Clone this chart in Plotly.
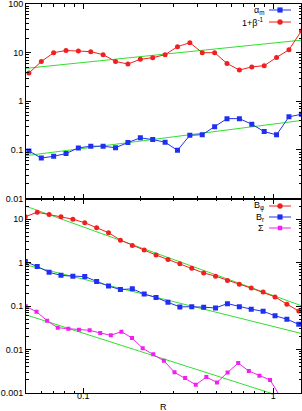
import math
import plotly.graph_objects as go

# ---------------- data ----------------
# top panel
R_top = [0.0518, 0.0602, 0.0699, 0.0812, 0.0943, 0.1096, 0.1273, 0.148, 0.1719, 0.1998,
         0.2321, 0.2698, 0.3134, 0.3641, 0.4231, 0.4916, 0.5712, 0.6637, 0.7713, 0.8962,
         1.041, 1.21, 1.406]
alpha_m = [0.095, 0.068, 0.074, 0.084, 0.11, 0.119, 0.119, 0.111, 0.142, 0.177,
           0.163, 0.144, 0.098, 0.20, 0.206, 0.298, 0.44, 0.44, 0.337, 0.238,
           0.204, 0.48, 0.54]
one_plus_inv_beta = [3.8, 6.6, 10.0, 11.1, 10.8, 10.5, 9.1, 6.6, 5.85, 7.3,
                     7.9, 9.1, 13.3, 16.1, 10.0, 10.0, 6.0, 4.4, 5.1, 5.4,
                     8.0, 11.5, 28.0]

# bottom panel
R_bot = [0.0496, 0.05728, 0.06615, 0.0764, 0.08824, 0.1019, 0.1177, 0.1359, 0.157, 0.1813,
         0.2094, 0.2418, 0.2793, 0.3226, 0.3726, 0.4305, 0.4971, 0.5742, 0.6631, 0.7659,
         0.8846, 1.022, 1.18, 1.363]
B_phi = [11.4, 14.5, 12.8, 11.4, 10.0, 8.3, 6.4, 4.9, 3.3, 2.5,
         1.95, 1.5, 1.19, 0.95, 0.74, 0.58, 0.49, 0.39, 0.32, 0.26,
         0.21, 0.163, 0.111, 0.077]
B_r = [1.06, 0.82, 0.60, 0.51, 0.49, 0.48, 0.37, 0.29, 0.24, 0.25,
       0.19, 0.158, 0.122, 0.096, 0.097, 0.094, 0.091, 0.114, 0.097, 0.085,
       0.076, 0.060, 0.050, 0.038]
R_sig = [0.04992, 0.0568, 0.06459, 0.07345, 0.08353, 0.09501, 0.1081, 0.1229, 0.1398, 0.1589,
         0.1807, 0.2056, 0.2337, 0.2658, 0.3023, 0.3439, 0.3911, 0.4447, 0.5058, 0.5752,
         0.6542, 0.744, 0.8461, 0.9621, 1.094]
Sigma = [0.099, 0.074, 0.046, 0.0318, 0.0302, 0.0286, 0.0277, 0.0241, 0.0213, 0.0258,
         0.0185, 0.0107, 0.0078, 0.0055, 0.0030, 0.0022, 0.00155, 0.00233, 0.00175, 0.00297,
         0.0049, 0.0032, 0.0025, 0.0020, 0.0008]

# power-law fits  (amplitude, exponent)
fit_beta = (15.8, 0.40)
fit_alpha = (0.34, 0.50)
fit_Bphi = (0.175, -1.58)
fit_Br = (0.034, -1.09)
fit_Sigma = (0.00095, -1.40)
R_fit = [0.05, 1.4]

x_ticks = [0.1, 1]
x_ticktext = ["0.1", "1"]
y_top_ticks = [0.01, 0.1, 1, 10, 100]
y_top_text = ["0.01", "0.1", "1", "10", "100"]
y_bot_ticks = [0.001, 0.01, 0.1, 1, 10]
y_bot_text = ["0.001", "0.01", "0.1", "1", "10"]

# ---------------- style ----------------
RED = "#f02020"
BLUE = "#2030f0"
MAG = "#f020f0"
GREEN = "#30e030"
FONT = "Liberation Sans, Arial, sans-serif"

W, H = 302, 411
ML, MR, MT, MB = 26, 1, 4, 18
PW = W - ML - MR
PH = H - MT - MB


def px2paper(px, py):
    return (px - ML) / PW, (H - MB - py) / PH


def fit_line(amp, expo):
    return [amp * r ** expo for r in R_fit]


fig = go.Figure()

# top panel
fig.add_trace(go.Scatter(x=R_fit, y=fit_line(*fit_beta), mode="lines",
                         line=dict(color=GREEN, width=1), xaxis="x", yaxis="y"))
fig.add_trace(go.Scatter(x=R_fit, y=fit_line(*fit_alpha), mode="lines",
                         line=dict(color=GREEN, width=1), xaxis="x", yaxis="y"))
fig.add_trace(go.Scatter(x=R_top, y=alpha_m, mode="lines+markers",
                         line=dict(color=BLUE, width=1),
                         marker=dict(symbol="square", size=5, color=BLUE),
                         xaxis="x", yaxis="y"))
fig.add_trace(go.Scatter(x=R_top, y=one_plus_inv_beta, mode="lines+markers",
                         line=dict(color=RED, width=1),
                         marker=dict(symbol="circle", size=5, color=RED),
                         xaxis="x", yaxis="y"))

# bottom panel
for f in (fit_Bphi, fit_Br, fit_Sigma):
    fig.add_trace(go.Scatter(x=R_fit, y=fit_line(*f), mode="lines",
                             line=dict(color=GREEN, width=1), xaxis="x2", yaxis="y2"))
fig.add_trace(go.Scatter(x=R_bot, y=B_phi, mode="lines+markers",
                         line=dict(color=RED, width=1),
                         marker=dict(symbol="circle", size=5, color=RED),
                         xaxis="x2", yaxis="y2"))
fig.add_trace(go.Scatter(x=R_bot, y=B_r, mode="lines+markers",
                         line=dict(color=BLUE, width=1),
                         marker=dict(symbol="square", size=5, color=BLUE),
                         xaxis="x2", yaxis="y2"))
fig.add_trace(go.Scatter(x=R_sig, y=Sigma, mode="lines+markers",
                         line=dict(color=MAG, width=1),
                         marker=dict(symbol="square", size=4, color=MAG),
                         xaxis="x2", yaxis="y2"))

x_minor = [0.05, 0.06, 0.07, 0.08, 0.09, 0.2, 0.3, 0.4, 0.5, 0.6, 0.7, 0.8, 0.9]


def y_minor(lo, hi):
    vals = []
    for e in range(lo, hi + 1):
        for m in range(2, 10):
            vals.append(m * 10 ** e)
    return vals


xrange_ = [math.log10(0.05), math.log10(1.4)]
common_x = dict(type="log", range=xrange_, showline=True, linecolor="black", linewidth=1,
                mirror="allticks", ticks="inside", ticklen=5, tickcolor="black",
                tickvals=x_ticks, ticktext=x_ticktext, showgrid=False, zeroline=False,
                automargin=False, ticklabeloverflow="allow",
                minor=dict(tickvals=x_minor, ticks="inside", ticklen=2.5, tickcolor="black",
                           showgrid=False),
                tickfont=dict(family=FONT, size=9, color="black"))
common_y = dict(type="log", showline=True, linecolor="black", linewidth=1,
                mirror="allticks", ticks="inside", ticklen=5, tickcolor="black",
                showgrid=False, zeroline=False, automargin=False,
                ticklabeloverflow="allow",
                tickfont=dict(family=FONT, size=9, color="black"))

fig.update_layout(
    template=None,
    width=W, height=H,
    margin=dict(l=ML, r=MR, t=MT, b=MB, autoexpand=False),
    paper_bgcolor="white", plot_bgcolor="white",
    showlegend=False,
    font=dict(family=FONT, size=9, color="black"),
    xaxis=dict(common_x, anchor="y", domain=[0, 1], showticklabels=False),
    yaxis=dict(common_y, anchor="x", domain=[0.5, 1], range=[-2, 2.002],
               tickvals=y_top_ticks, ticktext=y_top_text,
               minor=dict(tickvals=y_minor(-2, 1), ticks="inside", ticklen=2.5,
                          tickcolor="black", showgrid=False)),
    xaxis2=dict(common_x, anchor="y2", domain=[0, 1], showticklabels=True,
                ticklabelstandoff=-6),
    yaxis2=dict(common_y, anchor="x2", domain=[0, 0.5], range=[-3, math.log10(30)],
                tickvals=y_bot_ticks, ticktext=y_bot_text,
                minor=dict(tickvals=y_minor(-3, 1), ticks="inside", ticklen=2.5,
                           tickcolor="black", showgrid=False)),
)

# x-axis title
xt, yt = px2paper(163, 406.5)
fig.add_annotation(text="R", x=xt, y=yt, xref="paper", yref="paper", showarrow=False,
                   xanchor="center", yanchor="middle", font=dict(family=FONT, size=9))

# manual gnuplot-style legends (text right-aligned, then sample)
legend_rows = [
    ("α<sub>m</sub>", 10, BLUE, "square"),
    ("1+β<sup>-1</sup>", 22, RED, "circle"),
    ("B<sub>φ</sub>", 206, RED, "circle"),
    ("B<sub>r</sub>", 217, BLUE, "square"),
    ("Σ", 228, MAG, "square"),
]
shapes = []
for text, py, col, sym in legend_rows:
    tx, ty = px2paper(266, py)
    fig.add_annotation(text=text, x=tx, y=ty, xref="paper", yref="paper", showarrow=False,
                       xanchor="right", yanchor="middle", font=dict(family=FONT, size=9))
    x0, _ = px2paper(269, py)
    x1, _ = px2paper(291, py)
    xm, _ = px2paper(280, py)
    shapes.append(dict(type="line", xref="paper", yref="paper", x0=x0, x1=x1, y0=ty, y1=ty,
                       line=dict(color=col, width=1)))
    sz = 2.5 if sym == "circle" else 2.3
    if col == MAG:
        sz = 2
    shapes.append(dict(type="circle" if sym == "circle" else "rect",
                       xref="paper", yref="paper", xsizemode="pixel", ysizemode="pixel",
                       xanchor=xm, yanchor=ty, x0=-sz, x1=sz, y0=-sz, y1=sz,
                       fillcolor=col, line=dict(color=col, width=0.5)))
fig.update_layout(shapes=shapes)

fig.write_html("out.html",
               config={"displayModeBar": False},
               post_script="document.body.style.margin='0px';document.body.style.padding='0px';")
